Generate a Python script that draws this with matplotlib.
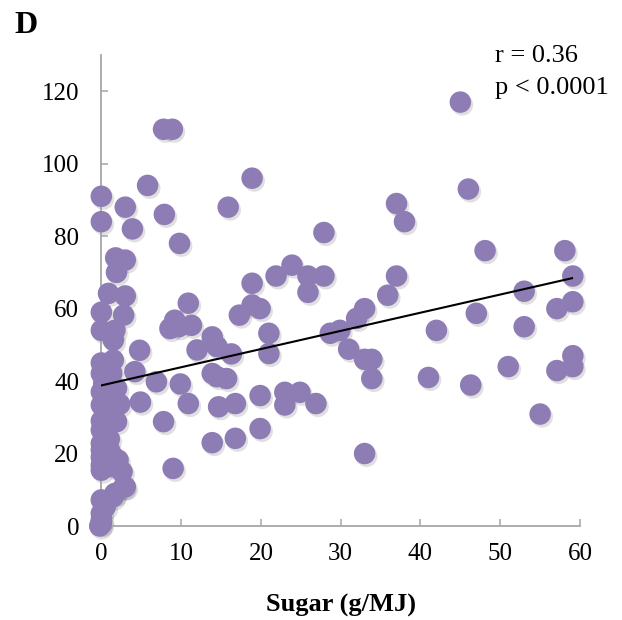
import numpy as np
import matplotlib
matplotlib.use("Agg")
import matplotlib.pyplot as plt
import matplotlib.transforms as mtransforms

# Sugar (g/MJ) vs outcome
sugar = [
    45, 7.8, 8.9, 18.9, 5.8, 46, 0, 3, 15.9, 37, 7.9, 0, 38, 3.9, 27.9, 9.8, 48.1, 58.1,
    1.8, 3, 23.9, 1.9, 21.9, 25.9, 27.9, 37, 59.1, 18.9, 0.9, 3, 25.9, 53, 35.9, 10.9,
    18.9, 59.1, 19.9, 33, 57.1, 0, 2.8, 17.3, 47, 32, 9.2, 0, 1.7, 8.6, 9.7, 11.3,
    21, 28.7, 29.9, 42, 53, 13.9, 1.5, 4.8, 12, 14.5, 31, 16.3, 21, 59.1, 1.5, 0,
    33, 33.9, 51, 59.1, 57.1, 0, 1.3, 4.2, 13.9, 14.5, 15.7, 33.9, 41, 0.3, 6.9, 9.9,
    46.3, 1.9, 19.9, 23, 24.9, 0, 2.3, 4.9, 10.9, 14.7, 16.8, 23, 26.9, 55, 1.9, 7.8,
    0, 19.9, 16.8, 13.9, 0, 0, 1.5, 0, 2.1, 33, 0, 1.5, 9, 2.6, 0, 3, 2.8, 1.7, 1.5,
    0, 0.5, 0, 0, 0, 1, 1, 0.5, 0, 0.8, 0, -0.2,
]
outcome = [
    117, 109.5, 109.5, 96, 94, 93, 91, 88, 88, 89, 86, 84, 84, 82, 81, 78, 76, 76,
    74, 73.4, 72, 70, 69, 69, 69, 69, 69, 67, 64.2, 63.5, 64.5, 64.8, 63.7, 61.5,
    61, 61.9, 60, 60, 60, 59, 58.2, 58.2, 58.7, 57.3, 56.8, 54, 54, 54.5, 55, 55.4,
    53.2, 53.2, 54, 54, 55, 52.2, 51.3, 48.5, 48.6, 49.5, 48.8, 47.5, 47.6, 47, 45.8, 45,
    46, 46, 44, 44, 42.9, 42.1, 42.1, 42.6, 42.1, 41.2, 40.7, 40.7, 41, 39.4, 39.8, 39.2,
    38.9, 38, 36, 36.9, 36.9, 33.4, 33.6, 34.2, 33.8, 32.9, 33.8, 33.4, 33.8, 30.9, 28.8, 28.8,
    26.5, 26.9, 24.2, 23, 22.8, 21, 19.1, 19, 18.2, 20, 16.8, 16.4, 15.9, 15, 15.4, 10.8, 10.8, 9, 8.1,
    7.2, 5.3, 3.5, 1.7, 0.7, 24, 21, 30, 29, 36.5, 37, 0,
]
fit_x = [0, 59]
fit_y = [38.8, 68.4]

plt.rcParams['font.family'] = ['Liberation Serif', 'DejaVu Serif']

fig = plt.figure(figsize=(6.22, 6.20), dpi=100)
ax = fig.add_axes([0.1629, 0.1516, 0.7696, 0.7597])

purple = '#8E7CB5'
# soft drop shadow under the dots
shadow = ax.transData + mtransforms.ScaledTranslation(1.5 / 72, -2.0 / 72, fig.dpi_scale_trans)
ax.scatter(sugar, outcome, s=240, color='#000000', alpha=0.12, edgecolors='none',
           transform=shadow, clip_on=False, zorder=2)
ax.scatter(sugar, outcome, s=240, color=purple, edgecolors='none', clip_on=False, zorder=3)
ax.plot(fit_x, fit_y, color='black', linewidth=1.5, zorder=4)

ax.set_xlim(0, 60)
ax.set_ylim(0, 130)
ax.set_xticks(range(0, 61, 10))
ax.set_yticks(range(0, 121, 20))

for side in ['top', 'right']:
    ax.spines[side].set_visible(False)
for side in ['left', 'bottom']:
    ax.spines[side].set_color('#A6A6A6')
    ax.spines[side].set_linewidth(1.3)
ax.tick_params(direction='in', length=5, width=1.1, color='#A6A6A6', labelsize=18)
ax.tick_params(axis='y', pad=16)
ax.tick_params(axis='x', pad=12)

ax.set_xlabel('Sugar (g/MJ)', fontsize=19, fontweight='bold', labelpad=21)

fig.text(0.024, 0.947, 'D', fontsize=23, fontweight='bold', va='baseline')
fig.text(495 / 622, 1 - 62 / 620, 'r = 0.36', fontsize=19, va='baseline')
fig.text(495 / 622, 1 - 94 / 620, 'p < 0.0001', fontsize=19, va='baseline')

fig.savefig('out.png', dpi=100)
